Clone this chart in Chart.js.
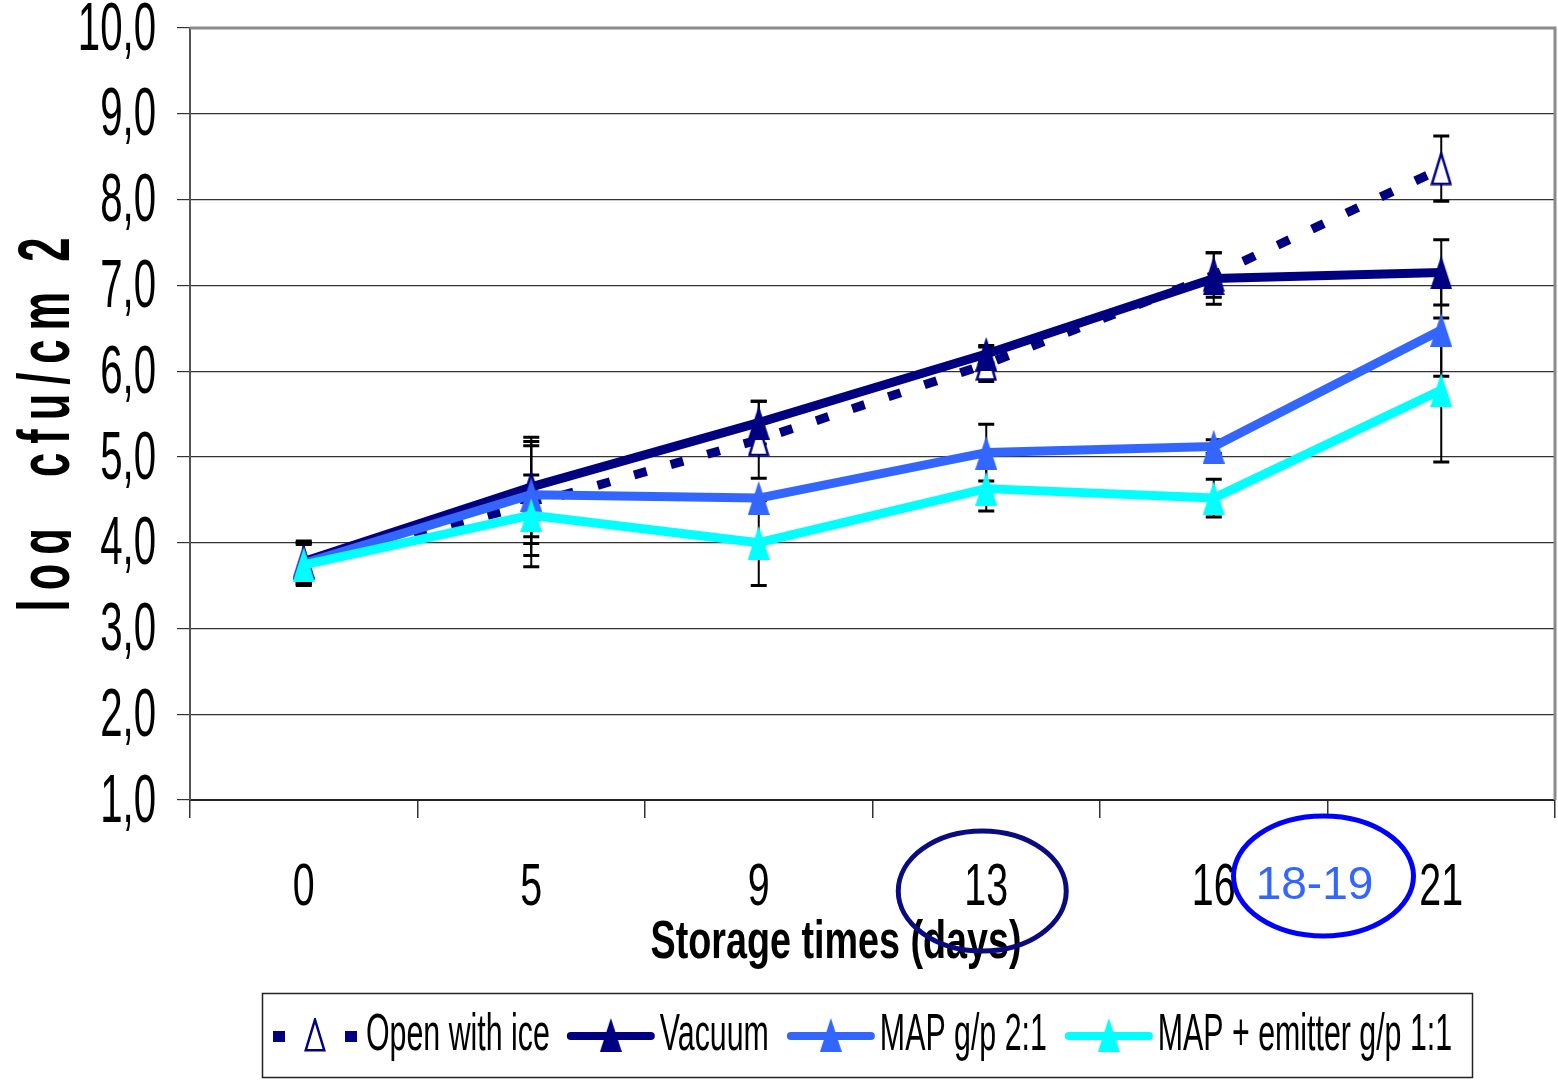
<!DOCTYPE html>
<html>
<head>
<meta charset="utf-8">
<script src="https://cdn.jsdelivr.net/npm/chart.js@4/dist/chart.umd.min.js"></script>
<style>
html,body{margin:0;padding:0;background:#fff;}
#wrap{width:1558px;height:1082px;position:relative;}
</style>
</head>
<body>
<div id="wrap"><canvas id="c" width="1558" height="1082"></canvas></div>
<script>
// ---------- data ----------
const categories = ['0', '5', '9', '13', '16', '21'];
const seriesNames = ['Open with ice', 'Vacuum', 'MAP g/p 2:1', 'MAP + emitter g/p 1:1'];
const openIce      = [3.76, 4.45, 5.20, 6.08, 7.12, 8.36];
const openIceErr   = [0.24, 0.73, 0.45, 0.20, 0.26, 0.38];
const vacuum       = [3.78, 4.65, 5.40, 6.20, 7.08, 7.15];
const vacuumErr    = [0.24, 0.58, 0.25, 0.10, 0.30, 0.38];
const mapGp21      = [3.76, 4.56, 4.52, 5.05, 5.12, 6.48];
const mapGp21Err   = [0.24, 0.57, 0.03, 0.33, 0.08, 0.54];
const mapEmitter   = [3.74, 4.32, 4.00, 4.63, 4.52, 5.78];
const mapEmitterErr= [0.24, 0.47, 0.50, 0.26, 0.22, 0.84];
const yMin = 1, yMax = 10, yStep = 1;
const xTitle = 'Storage times (days)';
const yTitle = 'log  cfu/cm 2';
const noteText = '18-19';

// ---------- fonts ----------
const probe = document.createElement('canvas').getContext('2d');
function hasFont(name){
  const s = 'abcdefghijklmnopqrstuvwxyz0123456789';
  probe.font = '40px monospace'; const a = probe.measureText(s).width;
  probe.font = '40px "' + name + '", monospace'; const b = probe.measureText(s).width;
  return Math.abs(a - b) > 1;
}
const NARROW = hasFont('Liberation Sans Narrow');
const FAM = NARROW ? '"Liberation Sans Narrow"' : '"Liberation Sans"';
const SX = NARROW ? 1 : 0.82;

function txt(ctx, s, x, y, o){
  ctx.save();
  ctx.translate(x, y);
  ctx.scale(o.sx ?? SX, o.sy ?? 1);
  ctx.font = (o.bold ? 'bold ' : '') + o.size + 'px ' + (o.family || FAM);
  ctx.textAlign = o.align || 'left';
  ctx.textBaseline = o.baseline || 'middle';
  ctx.fillStyle = o.color || '#000';
  ctx.fillText(s, 0, 0);
  const w = ctx.measureText(s).width * (o.sx ?? SX);
  ctx.restore();
  return w;
}

// ---------- markers ----------
function triCanvas(w, h, fill, stroke, lw){
  const c = document.createElement('canvas');
  c.width = w; c.height = h;
  const g = c.getContext('2d');
  const i = lw ? lw / 2 + 0.5 : 0;
  g.beginPath();
  g.moveTo(w / 2, i);
  g.lineTo(w - i, h - i);
  g.lineTo(i, h - i);
  g.closePath();
  g.fillStyle = fill; g.fill();
  if (lw){ g.lineWidth = lw; g.strokeStyle = stroke; g.lineJoin = 'miter'; g.stroke(); }
  return c;
}
const NAVY = '#000080', BLUE = '#3366FF', CYAN = '#00FFFF';
const triOpen = triCanvas(22, 34, '#ffffff', NAVY, 2.5);
const triVac = triCanvas(22, 34, NAVY);
const triMap = triCanvas(22, 34, BLUE);
const triCyan = triCanvas(22, 34, CYAN);

const errs = [openIceErr, vacuumErr, mapGp21Err, mapEmitterErr];

// ---------- plugins ----------
const errorBars = {
  id: 'errorBars',
  beforeDatasetsDraw(chart){
    const ctx = chart.ctx, ys = chart.scales.y;
    ctx.save();
    ctx.strokeStyle = '#000';
    chart.data.datasets.forEach((ds, i) => {
      const meta = chart.getDatasetMeta(i);
      const e = errs[i];
      meta.data.forEach((pt, j) => {
        const v = ds.data[j];
        const yt = ys.getPixelForValue(v + e[j]);
        const yb = ys.getPixelForValue(v - e[j]);
        const x = pt.x;
        ctx.lineWidth = 2;
        ctx.beginPath(); ctx.moveTo(x, yt); ctx.lineTo(x, yb); ctx.stroke();
        ctx.lineWidth = 3;
        ctx.beginPath();
        ctx.moveTo(x - 8, yt); ctx.lineTo(x + 8, yt);
        ctx.moveTo(x - 8, yb); ctx.lineTo(x + 8, yb);
        ctx.stroke();
      });
    });
    ctx.restore();
  }
};

const decorations = {
  id: 'decorations',
  afterDraw(chart){
    const ctx = chart.ctx, xs = chart.scales.x, ys = chart.scales.y, a = chart.chartArea;
    // plot frame (top/right)
    ctx.save();
    ctx.strokeStyle = '#8a8a8a'; ctx.lineWidth = 3;
    ctx.beginPath(); ctx.moveTo(a.left, a.top); ctx.lineTo(a.right, a.top); ctx.lineTo(a.right, a.bottom); ctx.stroke();
    ctx.restore();

    // y tick labels
    ys.ticks.forEach(t => {
      const y = ys.getPixelForValue(t.value);
      txt(ctx, t.value.toFixed(1).replace('.', ','), 156, y + 3, {size: 49, sy: 1.38, align: 'right'});
    });
    // x tick labels
    xs.ticks.forEach((t, i) => {
      const x = xs.getPixelForTick(i);
      txt(ctx, xs.getLabelForValue(t.value), x, 889, {size: 48, sy: 1.24, align: 'center'});
    });
    // x title
    txt(ctx, xTitle, 836, 958, {size: 46, bold: true, sy: 1.15, align: 'center', baseline: 'alphabetic'});

    // y title (rotated, letter spaced, clipped at left like the original)
    ctx.save();
    ctx.beginPath(); ctx.rect(0, 0, 71, 1082); ctx.clip();
    ctx.translate(69, 420);
    ctx.rotate(-Math.PI / 2);
    ctx.scale(SX, 1.38);
    ctx.font = 'bold 53px ' + FAM;
    ctx.letterSpacing = '11px';
    ctx.textAlign = 'center';
    ctx.textBaseline = 'alphabetic';
    ctx.fillStyle = '#000';
    ctx.fillText(yTitle, 0, 0);
    ctx.restore();

    // annotation ellipses
    const x13 = xs.getPixelForValue(3);
    const xMid = (xs.getPixelForValue(4) + xs.getPixelForValue(5)) / 2;
    ctx.save();
    ctx.lineWidth = 5;
    ctx.strokeStyle = '#0b0b80';
    ctx.beginPath(); ctx.ellipse(x13 - 4, 891, 84, 60, 0, 0, Math.PI * 2); ctx.stroke();
    ctx.strokeStyle = '#0000FF';
    ctx.beginPath(); ctx.ellipse(xMid - 4, 876, 90, 60, 0, 0, Math.PI * 2); ctx.stroke();
    ctx.restore();
    txt(ctx, noteText, xMid - 13, 886, {size: 46, sx: 1, family: '"Liberation Sans", Arial, sans-serif', align: 'center', color: BLUE});

    // legend
    ctx.save();
    ctx.strokeStyle = '#222'; ctx.lineWidth = 1.5;
    ctx.strokeRect(262.5, 993.5, 1210, 84);
    ctx.restore();
    const ly = 1036;
    const lo = {size: 37, sy: 1.38};
    let x = 273;
    ctx.save();
    ctx.fillStyle = NAVY;
    ctx.fillRect(x, ly - 5, 12, 11);
    ctx.fillRect(x + 72, ly - 5, 12, 11);
    ctx.drawImage(triOpen, x + 42 - 11, ly - 18);
    ctx.restore();
    x += 84 + 9;
    x += txt(ctx, seriesNames[0], x, ly, lo) + 17;
    const solids = [[NAVY, triVac], [BLUE, triMap], [CYAN, triCyan]];
    solids.forEach((s, k) => {
      ctx.save();
      ctx.strokeStyle = s[0]; ctx.lineWidth = 8; ctx.lineCap = 'round';
      ctx.beginPath(); ctx.moveTo(x + 4, ly); ctx.lineTo(x + 84, ly); ctx.stroke();
      ctx.drawImage(s[1], x + 44 - 11, ly - 18);
      ctx.restore();
      x += 93;
      x += txt(ctx, seriesNames[k + 1], x, ly, lo) + 18;
    });
  }
};

// ---------- chart ----------
const ds = (label, data, color, tri, order, dash) => ({
  label, data,
  borderColor: color,
  backgroundColor: color,
  borderWidth: 9,
  borderDash: dash || [],
  borderCapStyle: 'butt',
  borderJoinStyle: 'round',
  pointStyle: tri,
  pointRadius: 11,
  pointHoverRadius: 11,
  tension: 0,
  order
});

new Chart(document.getElementById('c'), {
  type: 'line',
  data: {
    labels: categories,
    datasets: [
      ds(seriesNames[0], openIce, NAVY, triOpen, 3, [13, 25]),
      ds(seriesNames[1], vacuum, NAVY, triVac, 2),
      ds(seriesNames[2], mapGp21, BLUE, triMap, 1),
      ds(seriesNames[3], mapEmitter, CYAN, triCyan, 0)
    ]
  },
  options: {
    responsive: false,
    animation: false,
    events: [],
    layout: {autoPadding: false, padding: {left: 0, right: 3, top: 28, bottom: 0}},
    plugins: {legend: {display: false}, tooltip: {enabled: false}, title: {display: false}},
    scales: {
      x: {
        type: 'category',
        offset: true,
        grid: {offset: true, drawOnChartArea: false, drawTicks: true, tickLength: 18, color: '#333', lineWidth: 1.5},
        border: {color: '#222', width: 2},
        ticks: {display: false},
        afterFit(s){ s.height = 282; s.paddingLeft = 0; s.paddingRight = 0; }
      },
      y: {
        min: yMin, max: yMax,
        ticks: {display: false, stepSize: yStep},
        grid: {color: '#333', lineWidth: 1.2, tickLength: 13},
        border: {color: '#555', width: 2},
        afterFit(s){ s.width = 190; s.paddingTop = 0; s.paddingBottom = 0; }
      }
    }
  },
  plugins: [errorBars, decorations]
});
</script>
</body>
</html>
